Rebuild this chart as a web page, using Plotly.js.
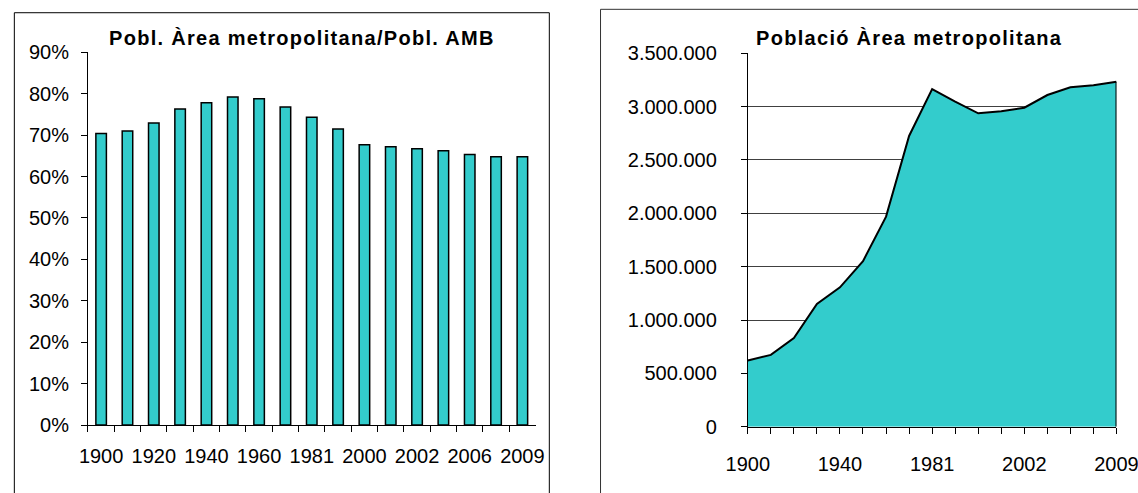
<!DOCTYPE html>
<html>
<head>
<meta charset="utf-8">
<script src="https://cdn.plot.ly/plotly-3.0.1.min.js"></script>
<style>
  body { margin: 0; background: #fff; }
  #chart { width: 1138px; height: 493px; }
  .annotation-text { letter-spacing: 1.3px; }
</style>
</head>
<body>
<div id="chart"></div>
<script>
// Years shared by both panels
const years = ['1900', '1910', '1920', '1930', '1940', '1950', '1960', '1970', '1981',
               '1991', '2000', '2001', '2002', '2004', '2006', '2008', '2009'];

// Pobl. Àrea metropolitana / Pobl. AMB
const shareAMB = [0.704, 0.710, 0.729, 0.763, 0.778, 0.792, 0.788, 0.768, 0.743,
                  0.715, 0.677, 0.672, 0.667, 0.662, 0.653, 0.648, 0.648];

// Població Àrea metropolitana
const population = [621000, 673000, 830000, 1151000, 1306000, 1552000, 1969000, 2725000, 3164000,
                    3046000, 2937000, 2956000, 2990000, 3109000, 3181000, 3200000, 3234000];

const font = {family: 'Liberation Sans, Arial, sans-serif', size: 20, color: '#000'};
const teal = '#33CCCC';
const last = years.length - 1;

const bars = {
    x: years,
    y: shareAMB,
    type: 'bar',
    marker: {color: teal, line: {color: '#000', width: 1.5}},
    xaxis: 'x',
    yaxis: 'y',
    hoverinfo: 'x+y'
};

const area = {
    x: years,
    y: population,
    type: 'scatter',
    mode: 'lines',
    fill: 'tozeroy',
    fillcolor: teal,
    line: {color: '#000', width: 2},
    xaxis: 'x2',
    yaxis: 'y2',
    hoverinfo: 'x+y'
};

const layout = {
    width: 1138,
    height: 493,
    margin: {l: 0, r: 0, t: 0, b: 0},
    paper_bgcolor: '#fff',
    plot_bgcolor: '#fff',
    showlegend: false,
    separators: ',.',
    font: font,
    bargap: 0.6,
    xaxis: {
        domain: [0.0773, 0.4706],
        anchor: 'y',
        type: 'category',
        range: [-0.5, last + 0.5],
        tickmode: 'linear', tick0: 0, dtick: 1, ticklabelstep: 2,
        tickson: 'boundaries',
        tickangle: 0,
        ticks: 'outside', ticklen: 6, tickcolor: '#000',
        showline: true, linecolor: '#000', linewidth: 1,
        showgrid: false, zeroline: false,
        ticklabelstandoff: 13,
        tickfont: font
    },
    yaxis: {
        domain: [0.1379, 0.8939],
        anchor: 'x',
        range: [0, 0.9],
        dtick: 0.1,
        tickformat: '.0%',
        ticks: 'outside', ticklen: 6, tickcolor: '#000',
        showline: true, linecolor: '#000', linewidth: 1,
        showgrid: false, zeroline: false,
        ticklabelstandoff: 8,
        tickfont: font
    },
    xaxis2: {
        domain: [0.6571, 0.9811],
        anchor: 'y2',
        type: 'category',
        range: [0, last],
        tickmode: 'linear', tick0: 0, dtick: 1, ticklabelstep: 4,
        tickangle: 0,
        ticks: 'outside', ticklen: 6, tickcolor: '#000',
        showline: true, linecolor: '#000', linewidth: 1,
        showgrid: false, zeroline: false,
        ticklabelstandoff: 13,
        tickfont: font
    },
    yaxis2: {
        domain: [0.1345, 0.8919],
        anchor: 'x2',
        range: [0, 3500000],
        dtick: 500000,
        tickformat: ',d',
        ticks: 'outside', ticklen: 6, tickcolor: '#000',
        showline: true, linecolor: '#000', linewidth: 1,
        showgrid: true, gridcolor: '#404040', gridwidth: 1,
        zeroline: false,
        ticklabelstandoff: 20,
        tickfont: font
    },
    shapes: [
        // panel frames
        {type: 'rect', xref: 'paper', yref: 'paper', x0: 0.0126, x1: 0.4827, y0: -0.1, y1: 0.9742,
         line: {color: '#000', width: 1}},
        {type: 'rect', xref: 'paper', yref: 'paper', x0: 0.5277, x1: 1.1, y0: -0.1, y1: 0.9811,
         line: {color: '#333', width: 1}},
        // closing edge of the area at the last year
        {type: 'line', xref: 'x2', yref: 'y2', x0: last, x1: last, y0: 0, y1: population[last],
         line: {color: '#000', width: 2}}
    ],
    annotations: [
        {text: 'Pobl. Àrea metropolitana/Pobl. AMB', xref: 'paper', yref: 'paper',
         x: 0.265, y: 0.923, xanchor: 'center', yanchor: 'middle', showarrow: false,
         font: {family: font.family, size: 20, color: '#000', weight: 'bold'}},
        {text: 'Població Àrea metropolitana', xref: 'paper', yref: 'paper',
         x: 0.799, y: 0.923, xanchor: 'center', yanchor: 'middle', showarrow: false,
         font: {family: font.family, size: 20, color: '#000', weight: 'bold'}}
    ]
};

Plotly.newPlot('chart', [bars, area], layout, {displayModeBar: false, staticPlot: true});
</script>
</body>
</html>
